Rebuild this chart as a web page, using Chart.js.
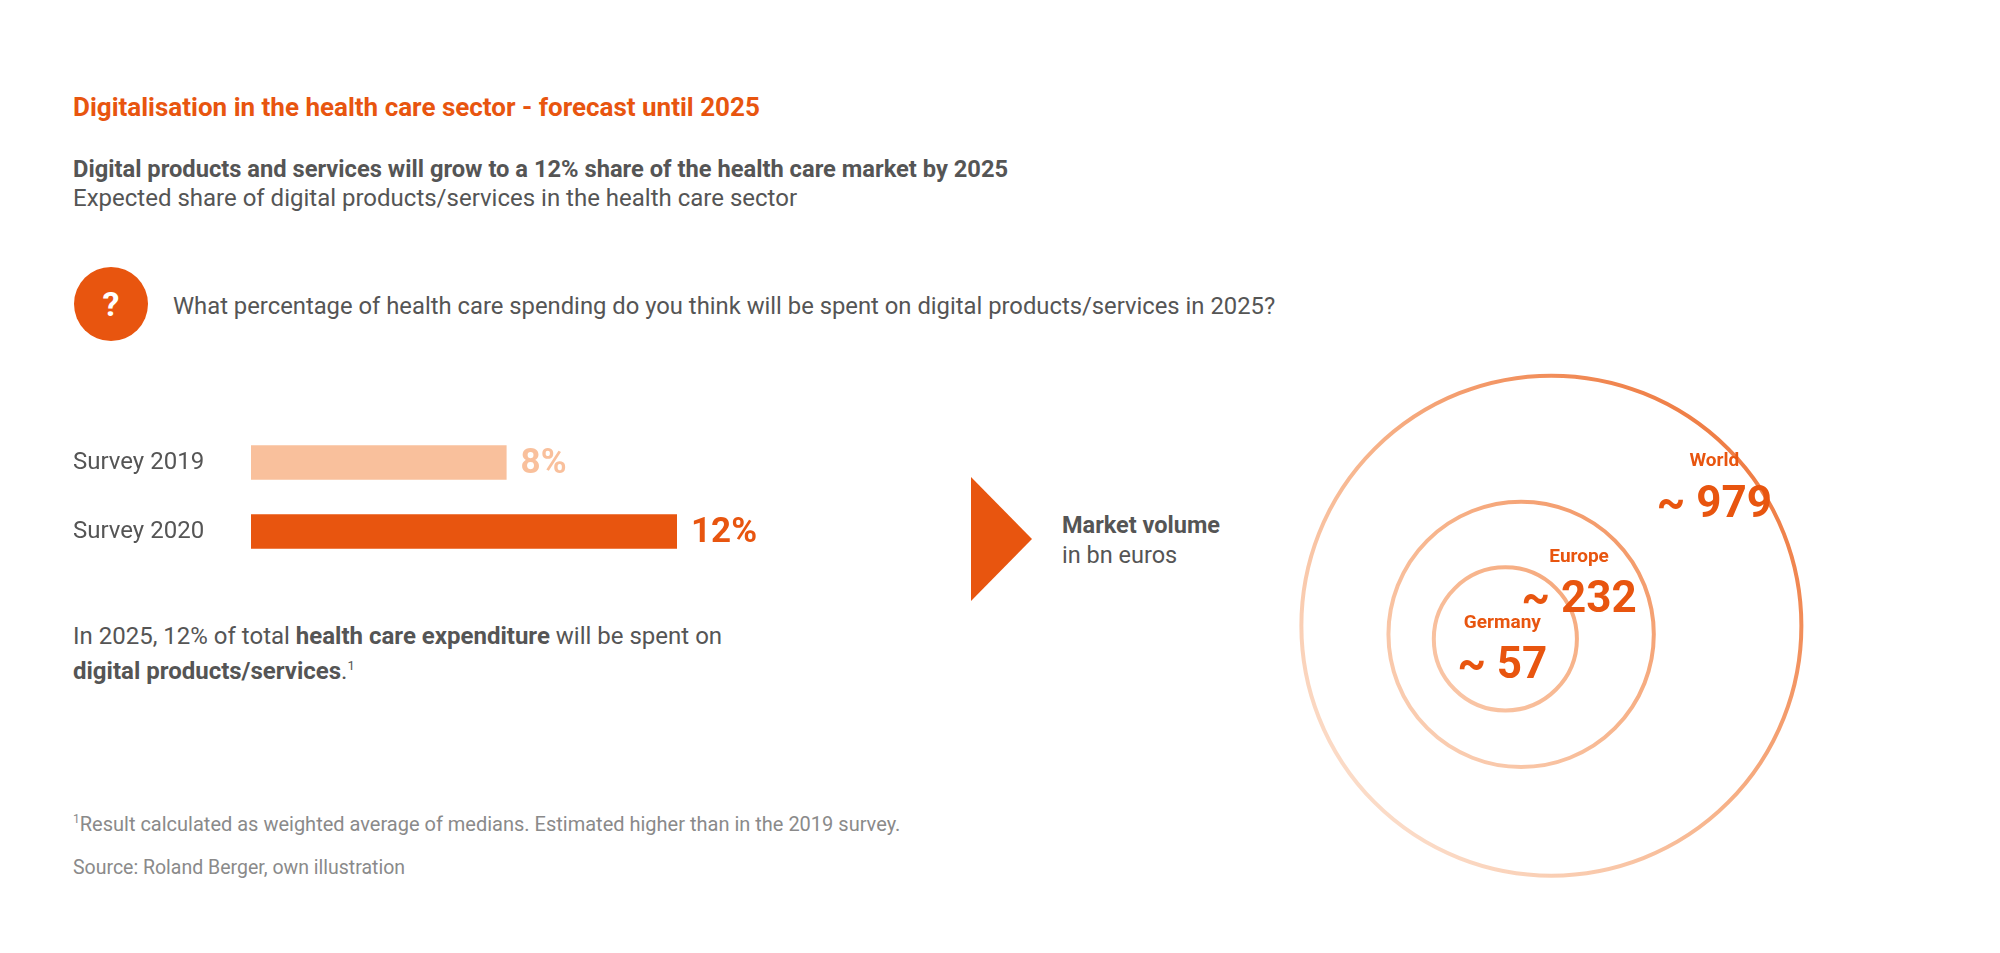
<!DOCTYPE html>
<html>
<head>
<meta charset="utf-8">
<script src="https://cdn.jsdelivr.net/npm/chart.js@4"></script>
<style>
  body { margin: 0; width: 2000px; height: 953px; background: #fff; font-family: Roboto, sans-serif; color: #555; position: relative; overflow: hidden; }
  .t { position: absolute; white-space: nowrap; }
  #title { left: 73px; top: 92px; font-size: 26px; font-weight: 700; color: #e8550f; }
  #sub1 { left: 73px; top: 155px; font-size: 23.7px; font-weight: 700; }
  #sub2 { left: 73px; top: 184px; font-size: 24px; }
  #q { position: absolute; left: 74px; top: 267px; width: 74px; height: 74px; border-radius: 50%; background: #e8550f; color: #fff; font-size: 34px; font-weight: 700; text-align: center; line-height: 74px; }
  #qtext { left: 173px; top: 292px; font-size: 23.8px; }
  #note { left: 73px; top: 621px; font-size: 24px; line-height: 30px; }
  #foot { left: 73px; top: 812px; font-size: 20px; color: #8a8a8a; }
  #src { left: 73px; top: 856px; font-size: 19.5px; color: #8a8a8a; }
  #tri { position: absolute; left: 971px; top: 477px; width: 0; height: 0; border-top: 62px solid transparent; border-bottom: 62px solid transparent; border-left: 61px solid #e8550f; }
  #mv { left: 1062px; top: 510px; font-size: 23.5px; line-height: 30px; }
  #barWrap { position: absolute; left: 0; top: 428px; width: 800px; height: 138px; }
  #bubWrap { position: absolute; left: 1200px; top: 300px; width: 700px; height: 650px; }
</style>
</head>
<body>
<div class="t" id="title">Digitalisation in the health care sector - forecast until 2025</div>
<div class="t" id="sub1">Digital products and services will grow to a 12% share of the health care market by 2025</div>
<div class="t" id="sub2">Expected share of digital products/services in the health care sector</div>
<div id="q">?</div>
<div class="t" id="qtext">What percentage of health care spending do you think will be spent on digital products/services in 2025?</div>
<div class="t" id="note">In 2025, 12% of total <b>health care expenditure</b> will be spent on<br><b>digital products/services</b>.<sup style="font-size:13px">1</sup></div>
<div class="t" id="foot"><sup style="font-size:12px">1</sup>Result calculated as weighted average of medians. Estimated higher than in the 2019 survey.</div>
<div class="t" id="src">Source: Roland Berger, own illustration</div>
<div id="tri"></div>
<div class="t" id="mv"><b>Market volume</b><br>in bn euros</div>
<div id="barWrap"><canvas id="bars"></canvas></div>
<div id="bubWrap"><canvas id="bubbles"></canvas></div>
<script>
const surveys = [ 'Survey 2019', 'Survey 2020' ];
const shares  = [ 8, 12 ];
const barColours = [ '#f9c09c', '#e8550f' ];

const regions = [ 'Germany', 'Europe', 'World' ];
const volumes = [ 57, 232, 979 ];

// bar chart: labels left, value labels after each bar
const barLabels = {
    id: 'barLabels',
    afterDatasetsDraw( chart ) {
        const { ctx } = chart;
        const meta = chart.getDatasetMeta( 0 );
        meta.data.forEach( ( bar, i ) => {
            ctx.save();
            ctx.textBaseline = 'middle';
            ctx.font = '24px Roboto';
            ctx.fillStyle = '#555';
            ctx.fillText( surveys[ i ], 73, bar.y );
            ctx.font = 'bold 35px Roboto';
            ctx.fillStyle = barColours[ i ];
            ctx.fillText( shares[ i ] + '%', bar.x + 14, bar.y + 2 );
            ctx.restore();
        } );
    },
};

new Chart( document.getElementById( 'bars' ), {
    type: 'bar',
    data: { labels: surveys, datasets: [ { data: shares, backgroundColor: barColours, barPercentage: 1, categoryPercentage: 0.5 } ] },
    options: {
        indexAxis: 'y', responsive: true, maintainAspectRatio: false, animation: false,
        layout: { padding: { left: 251, right: 123, top: 0, bottom: 0 } },
        plugins: { legend: { display: false }, tooltip: { enabled: false } },
        scales: { x: { display: false, min: 2, max: 12 }, y: { display: false } },
    },
    plugins: [ barLabels ],
} );

// bubbles: internally tangent circles, radius from value
const maxR = 250;
const radius = ( v ) => maxR * Math.pow( v / volumes[ 2 ], 0.44 );
const tangent = { x: 120, y: 413 };          // canvas-local tangent point
const dir = { x: 0.94, y: -0.34 };
const points = volumes.map( ( v ) => {
    const r = radius( v );
    return { x: tangent.x + r * dir.x, y: tangent.y + r * dir.y, r };
} );
const labelOffset = [ [ -3, -16 ], [ 58, -77 ], [ 163, -164 ] ];

const bubbleLabels = {
    id: 'bubbleLabels',
    afterDatasetsDraw( chart ) {
        const { ctx } = chart;
        chart.getDatasetMeta( 0 ).data.forEach( ( pt, i ) => {
            const x = pt.x + labelOffset[ i ][ 0 ];
            const y = pt.y + labelOffset[ i ][ 1 ];
            ctx.save();
            ctx.fillStyle = '#e8550f';
            ctx.textAlign = 'center';
            ctx.textBaseline = 'middle';
            ctx.font = 'bold 19px Roboto';
            ctx.fillText( regions[ i ], x, y );
            ctx.font = 'bold 44px Roboto';
            ctx.fillText( '~ ' + volumes[ i ], x, y + 44 );
            ctx.restore();
        } );
    },
};

new Chart( document.getElementById( 'bubbles' ), {
    type: 'bubble',
    data: { datasets: [ {
        data: points,
        clip: false,
        backgroundColor: 'rgba(0,0,0,0)',
        borderWidth: 4,
        borderColor: ( c ) => {
            const { ctx, chartArea } = c.chart;
            if ( ! chartArea ) return '#ef8048';
            const g = ctx.createLinearGradient( 110, 600, 620, 100 );
            g.addColorStop( 0, '#fdeee4' );
            g.addColorStop( 0.5, '#f7b38a' );
            g.addColorStop( 1, '#ec6a2c' );
            return g;
        },
    } ] },
    options: {
        responsive: true, maintainAspectRatio: false, animation: false,
        layout: { padding: 0 },
        plugins: { legend: { display: false }, tooltip: { enabled: false } },
        elements: { point: { hoverRadius: 0 } },
        scales: {
            x: { display: false, min: 0, max: 700 },
            y: { display: false, min: 0, max: 650, reverse: true },
        },
    },
    plugins: [ bubbleLabels ],
} );
</script>
</body>
</html>
